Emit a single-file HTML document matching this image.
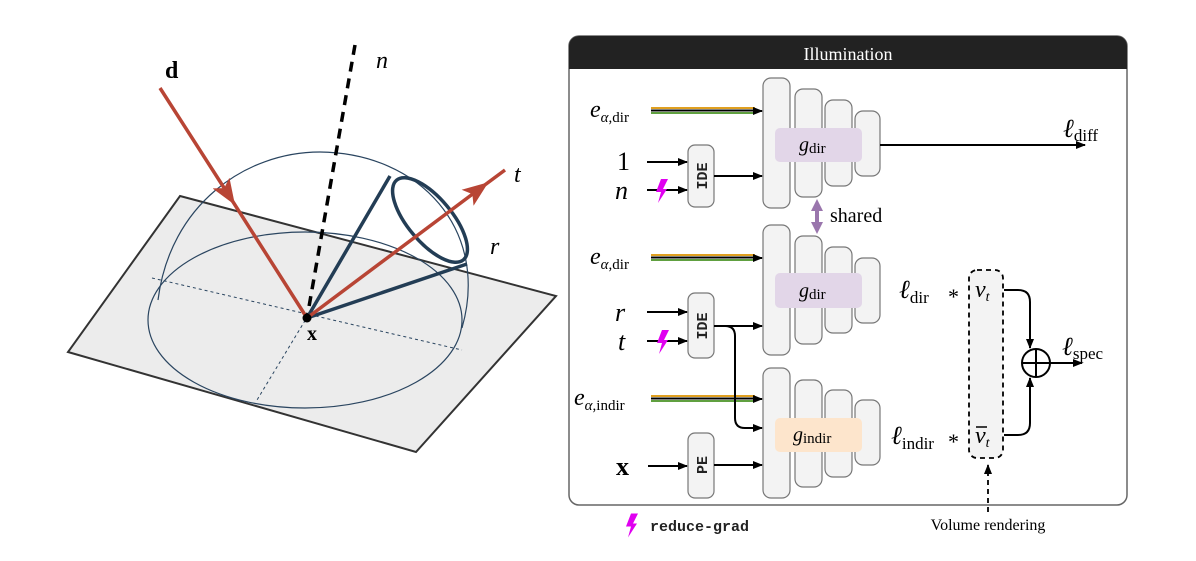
<!DOCTYPE html><html><head><meta charset="utf-8"><style>body{margin:0;background:#fff}svg{display:block}</style></head><body>
<svg width="1196" height="561" viewBox="0 0 1196 561" xmlns="http://www.w3.org/2000/svg" font-family="Liberation Serif, serif">
<defs>
<marker id="a" markerWidth="10" markerHeight="8" refX="9" refY="4" orient="auto" markerUnits="userSpaceOnUse"><path d="M0,0L10,4L0,8z" fill="#000"/></marker>
<marker id="ar" markerWidth="26" markerHeight="20" refX="13" refY="10" orient="auto" markerUnits="userSpaceOnUse"><path d="M0,0L26,10L0,20L6,10z" fill="#b84535"/></marker>
<marker id="ap" markerWidth="12" markerHeight="12" refX="8" refY="6" orient="auto-start-reverse" markerUnits="userSpaceOnUse"><path d="M0,0L12,6L0,12z" fill="#9a76ad"/></marker>
<symbol id="bolt" viewBox="0 0 12 24"><path d="M5,0L12,0L7,10L11,10L2,24L5,13L0,13z" fill="#e000f0"/></symbol>
</defs>
<polygon points="180,196 556,296 416,452 68,352" fill="#ececec" stroke="#333" stroke-width="2"/>
<ellipse cx="305" cy="320" rx="157" ry="88" fill="none" stroke="#2a4560" stroke-width="1.2"/>
<path d="M158,300 C170,205 245,152 320,152 C420,153 490,230 462,328" fill="none" stroke="#2a4560" stroke-width="1.2"/>
<path d="M152,278 L462,350" stroke="#2a4560" stroke-width="1" stroke-dasharray="3,3"/>
<path d="M355,238 L257,400" stroke="#2a4560" stroke-width="1" stroke-dasharray="3,3"/>
<path d="M355,45 L307,318" stroke="#000" stroke-width="3.5" stroke-dasharray="10,7"/>
<path d="M307,318 L390,176 M307,318 L467,264" stroke="#233d55" stroke-width="3.5" fill="none"/>
<ellipse cx="430" cy="220" rx="22" ry="52" transform="rotate(-40 430 220)" fill="none" stroke="#233d55" stroke-width="3.5"/>
<path d="M160,88 L228,194 L307,318" stroke="#b84535" stroke-width="3.5" fill="none" marker-mid="url(#ar)"/>
<path d="M307,318 L478,190 L505,170" stroke="#b84535" stroke-width="3.5" fill="none" marker-mid="url(#ar)"/>
<circle cx="307" cy="318" r="4.5" fill="#000"/>
<text x="165" y="78" font-size="24" font-weight="bold">d</text>
<text x="376" y="68" font-size="24" font-style="italic">n</text>
<text x="514" y="182" font-size="24" font-style="italic">t</text>
<text x="490" y="254" font-size="24" font-style="italic">r</text>
<text x="307" y="340" font-size="20" font-weight="bold">x</text>
<rect x="569" y="36" width="558" height="469" rx="10" fill="#fff" stroke="#666" stroke-width="1.5"/>
<path d="M569,69 V46 a10,10 0 0 1 10,-10 H1117 a10,10 0 0 1 10,10 V69z" fill="#222"/>
<text x="848" y="60" font-size="18" fill="#fff" text-anchor="middle">Illumination</text>
<g fill="#f3f3f3" stroke="#777" stroke-width="1.2">
<rect x="763" y="78" width="27" height="130" rx="8"/><rect x="795" y="89" width="27" height="108" rx="8"/><rect x="825" y="100" width="27" height="86" rx="8"/><rect x="855" y="111" width="25" height="65" rx="8"/>
<rect x="763" y="225" width="27" height="130" rx="8"/><rect x="795" y="236" width="27" height="108" rx="8"/><rect x="825" y="247" width="27" height="86" rx="8"/><rect x="855" y="258" width="25" height="65" rx="8"/>
<rect x="763" y="368" width="27" height="130" rx="8"/><rect x="795" y="380" width="27" height="107" rx="8"/><rect x="825" y="390" width="27" height="87" rx="8"/><rect x="855" y="400" width="25" height="65" rx="8"/>
<rect x="688" y="145" width="26" height="62" rx="7"/><rect x="688" y="293" width="26" height="65" rx="7"/><rect x="688" y="433" width="26" height="65" rx="7"/>
</g>
<rect x="775" y="128" width="87" height="34" rx="5" fill="#e2d6e8"/>
<rect x="775" y="273" width="87" height="35" rx="5" fill="#e2d6e8"/>
<rect x="775" y="418" width="87" height="34" rx="5" fill="#fde5cc"/>
<g font-size="20"><text x="799" y="151"><tspan font-style="italic">g</tspan><tspan font-size="15" dy="2">dir</tspan></text>
<text x="799" y="297"><tspan font-style="italic">g</tspan><tspan font-size="15" dy="2">dir</tspan></text>
<text x="793" y="441"><tspan font-style="italic">g</tspan><tspan font-size="15" dy="2">indir</tspan></text></g>
<g font-family="Liberation Mono, monospace" font-size="15" font-weight="bold" fill="#222">
<text transform="translate(707,176) rotate(-90)" text-anchor="middle">IDE</text>
<text transform="translate(707,326) rotate(-90)" text-anchor="middle">IDE</text>
<text transform="translate(707,465) rotate(-90)" text-anchor="middle">PE</text></g>
<g stroke-width="2"><path d="M651,108H755" stroke="#e0a020"/><path d="M651,110.5H755" stroke="#000"/><path d="M651,113H755" stroke="#60a040"/>
<path d="M651,255H755" stroke="#e0a020"/><path d="M651,257.5H755" stroke="#000"/><path d="M651,260H755" stroke="#60a040"/>
<path d="M651,396H755" stroke="#e0a020"/><path d="M651,398.5H755" stroke="#000"/><path d="M651,401H755" stroke="#60a040"/></g>
<g stroke="#000" stroke-width="2" fill="none" marker-end="url(#a)">
<path d="M755,111H762"/><path d="M755,258H762"/><path d="M755,399H762"/>
<path d="M647,162H687"/><path d="M647,190H687"/><path d="M714,176H762"/>
<path d="M647,312H687"/><path d="M647,341H687"/><path d="M714,326H762"/>
<path d="M714,326H725q10,0 10,10V418q0,10 10,10H762"/>
<path d="M648,466H687"/><path d="M714,465H762"/>
<path d="M880,145H1085"/>
<path d="M1004,290H1018q12,0 12,12V348"/><path d="M1004,435H1018q12,0 12,-12V378"/>
<path d="M1050,363H1082"/>
</g>
<g font-size="24"><text x="590" y="117"><tspan font-style="italic">e</tspan><tspan font-size="15" dy="5"><tspan font-style="italic">α</tspan>,dir</tspan></text>
<text x="590" y="264"><tspan font-style="italic">e</tspan><tspan font-size="15" dy="5"><tspan font-style="italic">α</tspan>,dir</tspan></text>
<text x="574" y="405"><tspan font-style="italic">e</tspan><tspan font-size="15" dy="5"><tspan font-style="italic">α</tspan>,indir</tspan></text></g>
<text x="617" y="170" font-size="26">1</text>
<text x="615" y="199" font-size="26" font-style="italic">n</text>
<text x="615" y="321" font-size="26" font-style="italic">r</text>
<text x="618" y="350" font-size="26" font-style="italic">t</text>
<text x="616" y="475" font-size="26" font-weight="bold">x</text>
<use href="#bolt" x="656" y="178" width="12" height="26"/>
<use href="#bolt" x="657" y="329" width="12" height="26"/>
<use href="#bolt" x="626" y="512" width="12" height="27"/>
<text x="650" y="531" font-family="Liberation Mono, monospace" font-size="15" font-weight="bold" fill="#222">reduce-grad</text>
<path d="M817,203V230" stroke="#9a76ad" stroke-width="4" marker-start="url(#ap)" marker-end="url(#ap)"/>
<text x="830" y="222" font-size="20">shared</text>
<text x="1063" y="137" font-size="26"><tspan font-style="italic">ℓ</tspan><tspan font-size="17" dy="4">diff</tspan></text>
<rect x="969" y="270" width="34" height="188" rx="8" fill="#f3f3f3" stroke="#000" stroke-width="1.8" stroke-dasharray="5,4"/>
<text x="899" y="298" font-size="26"><tspan font-style="italic">ℓ</tspan><tspan font-size="17" dy="5">dir</tspan></text><text x="948" y="304" font-size="22">*</text>
<text x="975" y="297" font-size="24"><tspan font-style="italic">v</tspan><tspan font-size="14" font-style="italic" dy="4">t</tspan></text>
<text x="891" y="444" font-size="26"><tspan font-style="italic">ℓ</tspan><tspan font-size="17" dy="5">indir</tspan></text><text x="948" y="449" font-size="22">*</text>
<text x="975" y="443" font-size="24"><tspan font-style="italic">v</tspan><tspan font-size="14" font-style="italic" dy="4">t</tspan></text>
<path d="M976,427h11" stroke="#000" stroke-width="1.5"/>
<circle cx="1036" cy="363" r="14" fill="none" stroke="#000" stroke-width="2"/>
<path d="M1022,363H1050M1036,349V377" stroke="#000" stroke-width="2"/>
<text x="1062" y="355" font-size="26"><tspan font-style="italic">ℓ</tspan><tspan font-size="17" dy="4">spec</tspan></text>
<path d="M988,512V465" stroke="#000" stroke-width="1.8" stroke-dasharray="5,4" marker-end="url(#a)"/>
<text x="988" y="530" font-size="16" text-anchor="middle">Volume rendering</text>
</svg></body></html>
